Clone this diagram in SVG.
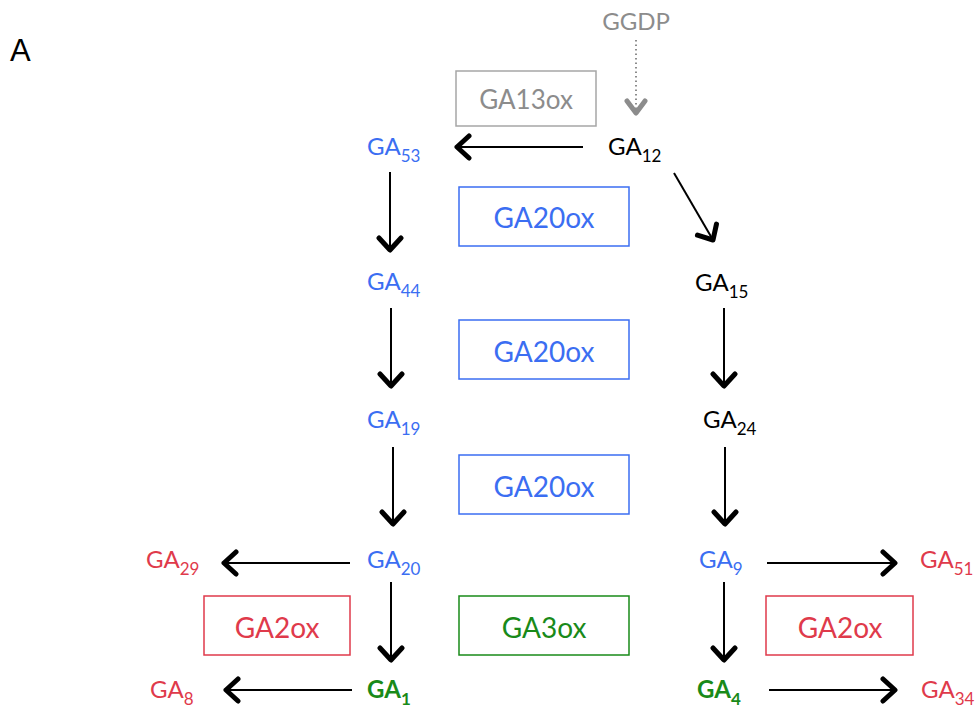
<svg xmlns="http://www.w3.org/2000/svg" width="975" height="708" viewBox="0 0 975 708">
<style>
text{font-family:Lato,"Open Sans","Liberation Sans",sans-serif;font-size:24px}
.sub{font-size:17px}
.blue{fill:#3b6ef2}
.red{fill:#df3a4b}
.green{fill:#198a19}
.grey{fill:#8c8c8c}
.blk{fill:#000}
.bold{font-weight:bold}
.box{fill:#fff;stroke-width:1.5}
.bt{font-size:28px;text-anchor:middle}
.ln{stroke:#000;stroke-width:2;fill:none}
</style>
<defs>
<marker id="ah" markerUnits="userSpaceOnUse" viewBox="-16 -14 20 28" refX="0" refY="0" markerWidth="20" markerHeight="28" orient="auto">
<path d="M-12,-11 L0,0 L-12,11" fill="none" stroke="#000" stroke-width="5" stroke-linecap="round" stroke-linejoin="round"/>
</marker>
<marker id="ahg" markerUnits="userSpaceOnUse" viewBox="-16 -14 20 28" refX="0" refY="0" markerWidth="20" markerHeight="28" orient="auto">
<path d="M-12,-9 L0,0 L-12,9" fill="none" stroke="#8c8c8c" stroke-width="5" stroke-linecap="round" stroke-linejoin="round"/>
</marker>
</defs>
<text x="10" y="61" style="font-family:'Liberation Sans',Arial,sans-serif;font-size:31px">A</text>
<g id="connectors">
<line x1="636" y1="40" x2="636" y2="113" stroke="#8c8c8c" stroke-width="2" stroke-dasharray="1.5,3" marker-end="url(#ahg)"/>
<line class="ln" x1="583" y1="147" x2="457" y2="147" marker-end="url(#ah)"/>
<line class="ln" x1="674" y1="173" x2="713" y2="240" marker-end="url(#ah)"/>
<line class="ln" x1="390" y1="172" x2="390" y2="250" marker-end="url(#ah)"/>
<line class="ln" x1="391" y1="308" x2="391" y2="386" marker-end="url(#ah)"/>
<line class="ln" x1="724" y1="308" x2="724" y2="386" marker-end="url(#ah)"/>
<line class="ln" x1="393" y1="447" x2="393" y2="524" marker-end="url(#ah)"/>
<line class="ln" x1="725" y1="447" x2="725" y2="524" marker-end="url(#ah)"/>
<line class="ln" x1="350" y1="563" x2="224" y2="563" marker-end="url(#ah)"/>
<line class="ln" x1="767" y1="563" x2="895" y2="563" marker-end="url(#ah)"/>
<line class="ln" x1="391" y1="582" x2="391" y2="660" marker-end="url(#ah)"/>
<line class="ln" x1="724" y1="582" x2="724" y2="660" marker-end="url(#ah)"/>
<line class="ln" x1="352" y1="690" x2="226" y2="690" marker-end="url(#ah)"/>
<line class="ln" x1="769" y1="690" x2="895" y2="690" marker-end="url(#ah)"/>
</g>
<g id="GGDP"><text x="636" y="30" class="grey" text-anchor="middle">GGDP</text></g>
<g id="GA13ox"><rect class="box" x="456" y="71" width="140" height="55" stroke="#a6a6a6"/><text x="526" y="109" class="bt grey" style="font-size:26px">GA13ox</text></g>
<g id="GA12"><text x="608" y="155" class="blk">GA<tspan class="sub" dy="7">12</tspan></text></g>
<g id="GA53"><text x="367" y="155" class="blue">GA<tspan class="sub" dy="7">53</tspan></text></g>
<g id="GA20ox1"><rect class="box" x="459" y="187" width="170" height="59" stroke="#3b6ef2"/><text x="544" y="228" class="bt blue">GA20ox</text></g>
<g id="GA44"><text x="367" y="290" class="blue">GA<tspan class="sub" dy="7">44</tspan></text></g>
<g id="GA15"><text x="695" y="291" class="blk">GA<tspan class="sub" dy="7">15</tspan></text></g>
<g id="GA20ox2"><rect class="box" x="459" y="320" width="170" height="59" stroke="#3b6ef2"/><text x="544" y="362" class="bt blue">GA20ox</text></g>
<g id="GA19"><text x="367" y="428" class="blue">GA<tspan class="sub" dy="7">19</tspan></text></g>
<g id="GA24"><text x="703" y="428" class="blk">GA<tspan class="sub" dy="7">24</tspan></text></g>
<g id="GA20ox3"><rect class="box" x="459" y="455" width="170" height="59" stroke="#3b6ef2"/><text x="544" y="497" class="bt blue">GA20ox</text></g>
<g id="GA20"><text x="367" y="568" class="blue">GA<tspan class="sub" dy="7">20</tspan></text></g>
<g id="GA9"><text x="699" y="568" class="blue">GA<tspan class="sub" dy="7">9</tspan></text></g>
<g id="GA29"><text x="146" y="568" class="red">GA<tspan class="sub" dy="7">29</tspan></text></g>
<g id="GA51"><text x="920" y="568" class="red">GA<tspan class="sub" dy="7">51</tspan></text></g>
<g id="GA2ox1"><rect class="box" x="204" y="596" width="146" height="59" stroke="#df3a4b"/><text x="277" y="638" class="bt red">GA2ox</text></g>
<g id="GA3ox"><rect class="box" x="459" y="596" width="170" height="59" stroke="#198a19"/><text x="544" y="638" class="bt green">GA3ox</text></g>
<g id="GA2ox2"><rect class="box" x="766" y="596" width="147" height="59" stroke="#df3a4b"/><text x="840" y="638" class="bt red">GA2ox</text></g>
<g id="GA1"><text x="367" y="698" class="green bold">GA<tspan class="sub" dy="7">1</tspan></text></g>
<g id="GA4"><text x="697" y="698" class="green bold">GA<tspan class="sub" dy="7">4</tspan></text></g>
<g id="GA8"><text x="150" y="698" class="red">GA<tspan class="sub" dy="7">8</tspan></text></g>
<g id="GA34"><text x="921" y="698" class="red">GA<tspan class="sub" dy="7">34</tspan></text></g>
</svg>
